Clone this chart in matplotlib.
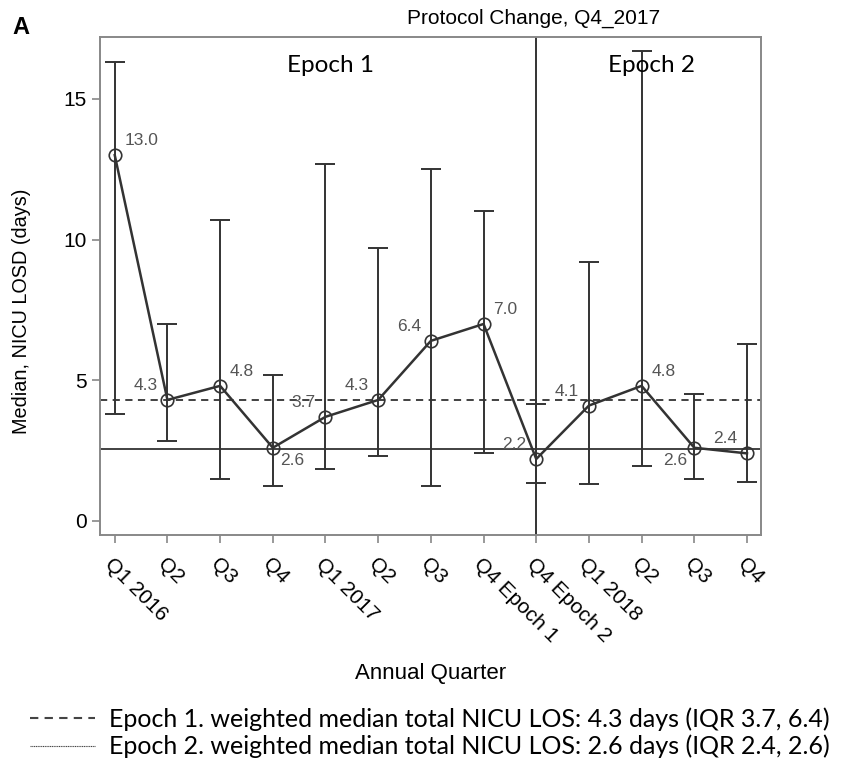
import matplotlib
matplotlib.use('Agg')
import matplotlib.pyplot as plt
from matplotlib.lines import Line2D

quarters = ['Q1 2016', 'Q2', 'Q3', 'Q4', 'Q1 2017', 'Q2', 'Q3', 'Q4 Epoch 1',
            'Q4 Epoch 2', 'Q1 2018', 'Q2', 'Q3', 'Q4']
medians = [13.0, 4.3, 4.8, 2.6, 3.7, 4.3, 6.4, 7.0, 2.2, 4.1, 4.8, 2.6, 2.4]
upper = [16.3, 7.0, 10.7, 5.2, 12.7, 9.7, 12.5, 11.0, 4.15, 9.2, 16.7, 4.5, 6.3]
lower = [3.8, 2.85, 1.5, 1.25, 1.85, 2.3, 1.25, 2.4, 1.35, 1.3, 1.95, 1.5, 1.4]
# where each value label sits relative to its point
label_pos = ['ur', 'ul', 'ur', 'lr', 'ul', 'ul', 'ul', 'ur', 'ul', 'ul', 'ur', 'll', 'ul']
epoch1_median = 4.3
epoch2_median = 2.55
change_idx = 8

fig = plt.figure(figsize=(8.41, 7.65), dpi=100)
ax = fig.add_axes([0.1189, 0.3007, 0.7856, 0.6509])

x = list(range(len(quarters)))
yerr = [[m - l for m, l in zip(medians, lower)], [u - m for m, u in zip(medians, upper)]]

ax.axhline(epoch1_median, color='#333333', lw=1.3, ls=(0, (4, 3)), zorder=1)
ax.axhline(epoch2_median, color='#333333', lw=1.3, zorder=1)
ax.axvline(change_idx, color='#333333', lw=1.4, zorder=1)

ax.errorbar(x, medians, yerr=yerr, fmt='none', ecolor='#333333', elinewidth=1.4,
            capsize=7, capthick=1.4, zorder=2)
ax.plot(x, medians, color='#333333', lw=1.8, marker='o', markersize=9,
        mfc='none', mec='#333333', mew=1.2, zorder=3)

offsets = {'ur': (7, 5, 'left', 'bottom'), 'ul': (-7, 5, 'right', 'bottom'),
           'lr': (5, -4, 'left', 'top'), 'll': (-5, -4, 'right', 'top')}
for xi, m, p in zip(x, medians, label_pos):
    dx, dy, ha, va = offsets[p]
    ax.annotate(f'{m:.1f}', (xi, m), xytext=(dx, dy), textcoords='offset points',
                ha=ha, va=va, fontsize=12.5, color='#555555', family='Liberation Sans')

ax.set_xlim(-0.28, 12.26)
ax.set_ylim(-0.5, 17.2)
ax.set_yticks([0, 5, 10, 15])
ax.set_yticklabels(['0', '5', '10', '15'], fontsize=15, family='Liberation Sans')
ax.set_xticks(x)
ax.set_xticklabels(quarters, rotation=-45, ha='left', rotation_mode='anchor',
                   fontsize=15, family='Liberation Sans')
ax.tick_params(axis='x', pad=8)
ax.tick_params(direction='out', length=6, color='#888888', width=1.2)
for s in ax.spines.values():
    s.set_color('#888888')
    s.set_linewidth(1.4)

ax.text(4.1, 16.2, 'Epoch 1', fontsize=17.5, family='Lato', ha='center', va='center')
ax.text(10.18, 16.2, 'Epoch 2', fontsize=17.5, family='Lato', ha='center', va='center')

fig.text(534 / 841, 1 - 18 / 765, 'Protocol Change, Q4_2017', fontsize=15,
         family='Liberation Sans', ha='center', va='center')
fig.text(12 / 841, 1 - 28 / 765, 'A', fontsize=17, fontweight='bold',
         family='Liberation Sans', ha='left', va='center')
fig.text(22 / 841, 1 - 311 / 765, 'Median, NICU LOSD (days)', fontsize=14.3,
         family='Liberation Sans', rotation=90, ha='center', va='center')
fig.text(431 / 841, 1 - 673 / 765, 'Annual Quarter', fontsize=16,
         family='Liberation Sans', ha='center', va='center')

handles = [Line2D([], [], color='#444444', lw=1.5, ls=(0, (4, 3))),
           Line2D([], [], color='#444444', lw=0.8, ls=(0, (1, 0.6)))]
fig.legend(handles, ['Epoch 1. weighted median total NICU LOS: 4.3 days (IQR 3.7, 6.4)',
                     'Epoch 2. weighted median total NICU LOS: 2.6 days (IQR 2.4, 2.6)'],
           loc='center left', bbox_to_anchor=(30 / 841, 1 - 733 / 765), frameon=False,
           prop={'family': 'Lato', 'size': 18}, handlelength=2.6, handletextpad=0.55,
           labelspacing=0.15, borderaxespad=0, borderpad=0)

fig.savefig('out.png', dpi=100)
